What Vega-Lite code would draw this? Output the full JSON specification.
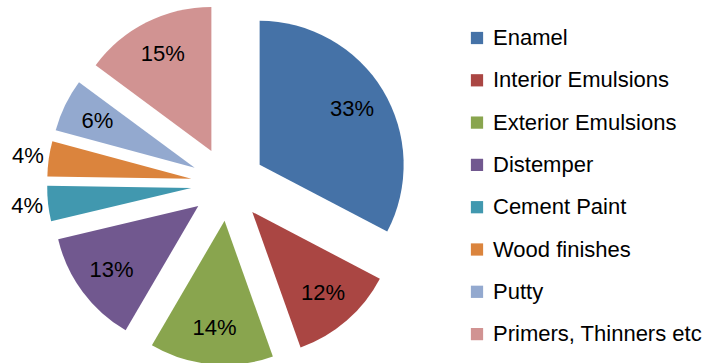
{
  "$schema": "https://vega.github.io/schema/vega-lite/v6.json",
  "width": 718,
  "height": 363,
  "autosize": {"type": "none"},
  "padding": 0,
  "config": {"view": {"stroke": null}, "font": "Liberation Sans"},
  "data": {
    "values": [
      {"idx": 1, "name": "Enamel", "value": 33},
      {"idx": 2, "name": "Interior Emulsions", "value": 12},
      {"idx": 3, "name": "Exterior Emulsions", "value": 14},
      {"idx": 4, "name": "Distemper", "value": 13},
      {"idx": 5, "name": "Cement Paint", "value": 4},
      {"idx": 6, "name": "Wood finishes", "value": 4},
      {"idx": 7, "name": "Putty", "value": 6},
      {"idx": 8, "name": "Primers, Thinners etc", "value": 15}
    ]
  },
  "transform": [
    {"joinaggregate": [{"op": "sum", "field": "value", "as": "total"}]},
    {"window": [{"op": "sum", "field": "value", "as": "cum"}], "sort": [{"field": "idx"}], "frame": [null, 0]},
    {"calculate": "datum.value / datum.total", "as": "share"},
    {"calculate": "(datum.cum - datum.value) / datum.total", "as": "f0"},
    {"calculate": "datum.cum / datum.total", "as": "f1"},
    {"calculate": "(datum.cum - datum.value / 2) / datum.total", "as": "fm"},
    {"calculate": "37 * sin(datum.fm * 2 * PI)", "as": "ex"},
    {"calculate": "37 * cos(datum.fm * 2 * PI)", "as": "ey"}
  ],
  "encoding": {
    "x": {"field": "ex", "type": "quantitative", "scale": {"domain": [-228, 490], "nice": false, "zero": false}, "axis": null, "stack": null},
    "y": {"field": "ey", "type": "quantitative", "scale": {"domain": [-179, 184], "nice": false, "zero": false}, "axis": null, "stack": null}
  },
  "layer": [
    {
      "mark": {"type": "arc", "radius": 144},
      "encoding": {
        "theta": {"field": "f0", "type": "quantitative", "scale": {"domain": [0, 1], "range": [0, 6.283185307179586]}, "stack": null},
        "theta2": {"field": "f1"},
        "color": {
          "field": "name",
          "type": "nominal",
          "scale": {
            "domain": ["Enamel", "Interior Emulsions", "Exterior Emulsions", "Distemper", "Cement Paint", "Wood finishes", "Putty", "Primers, Thinners etc"],
            "range": ["#4572A7", "#AA4643", "#89A54E", "#71588F", "#4198AF", "#DB843D", "#93A9CF", "#D19392"]
          },
          "legend": {
            "orient": "none",
            "legendX": 466,
            "legendY": 27,
            "title": null,
            "padding": 0,
            "symbolType": "square",
            "symbolSize": 150,
            "symbolStrokeWidth": 0,
            "labelFont": "Liberation Sans",
            "labelFontSize": 22,
            "labelColor": "#000000",
            "labelOffset": 5,
            "rowPadding": 20.3,
            "labelLimit": 300
          }
        }
      }
    },
    {
      "transform": [{"filter": "datum.value >= 5"}],
      "mark": {"type": "text", "radius": 108, "fontSize": 22, "font": "Liberation Sans", "color": "#000000", "align": "center", "baseline": "middle"},
      "encoding": {
        "theta": {"field": "fm", "type": "quantitative", "scale": {"domain": [0, 1], "range": [0, 6.283185307179586]}, "stack": null},
        "text": {"field": "share", "type": "quantitative", "format": ".0%"}
      }
    },
    {
      "transform": [{"filter": "datum.value < 5"}],
      "mark": {"type": "text", "radius": 165, "fontSize": 22, "font": "Liberation Sans", "color": "#000000", "align": "center", "baseline": "middle"},
      "encoding": {
        "theta": {"field": "fm", "type": "quantitative", "scale": {"domain": [0, 1], "range": [0, 6.283185307179586]}, "stack": null},
        "text": {"field": "share", "type": "quantitative", "format": ".0%"}
      }
    }
  ]
}
